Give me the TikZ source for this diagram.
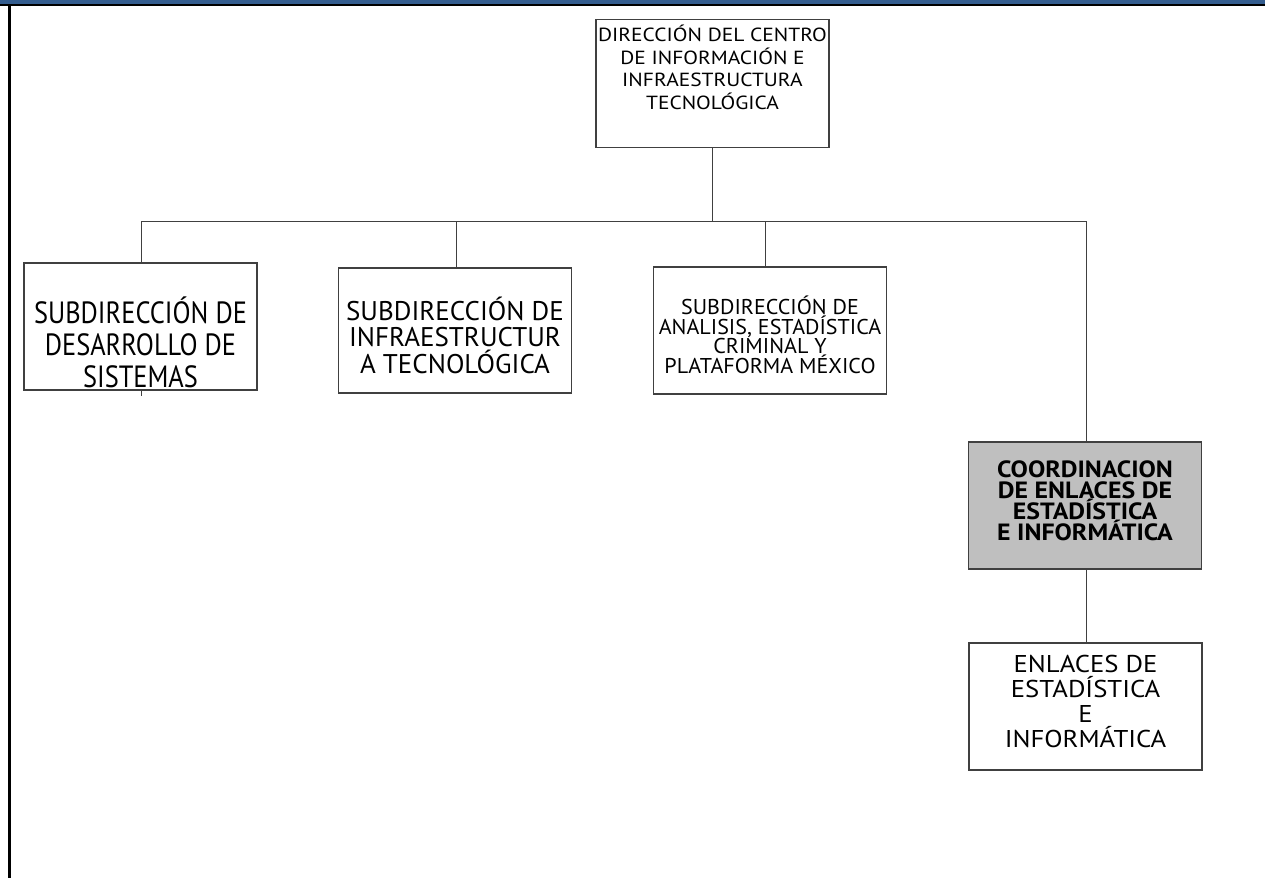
\documentclass[tikz,border=0pt]{standalone}
\usepackage{fontspec}
\setmainfont{PT Sans}
\usepackage{tikz}
\usetikzlibrary{positioning, calc}

\definecolor{barblue}{RGB}{52,93,143}
\definecolor{linegray}{RGB}{64,64,64}
\definecolor{boxgray}{RGB}{191,191,191}

\newcommand{\stretchfont}[3]{\fontsize{#1}{#2}\selectfont\addfontfeature{FakeStretch=#3}}

\begin{document}
\begin{tikzpicture}[x=1pt, y=-1pt,
    unit/.style={draw=linegray, line width=1.1pt, fill=white, minimum width=233pt, align=center, inner sep=0pt},
    link/.style={draw=linegray, line width=0.9pt}
]
\useasboundingbox (0,0) rectangle (1265,878);

% Frame
\fill[barblue] (0,0) rectangle (1265,4);
\fill[black] (0,4) rectangle (1265,6);
\fill[black] (8,6) rectangle (11,878);

% Direccion
\node[unit, minimum height=128pt, font=\stretchfont{19pt}{22.6pt}{1.13}] (dir) at (712.5,83.5)
    {DIRECCIÓN DEL CENTRO\\DE INFORMACIÓN E\\INFRAESTRUCTURA\\TECNOLÓGICA\\[10pt]\mbox{}};

% Subdirecciones
\node[unit, minimum height=127pt, font=\stretchfont{30.7pt}{32pt}{0.86}] (sis) at (140.5,326.5)
    {\mbox{}\\[26pt]SUBDIRECCIÓN DE\\DESARROLLO DE\\SISTEMAS};
\node[unit, minimum height=125pt, font=\stretchfont{27pt}{26.6pt}{1.0}] (inf) at (455,330.5)
    {\mbox{}\\[6pt]SUBDIRECCIÓN DE\\INFRAESTRUCTUR\\A TECNOLÓGICA};
\node[unit, minimum height=127pt, font=\stretchfont{21.4pt}{19.6pt}{1.03}] (ana) at (770,330.5)
    {\mbox{}\\[8pt]SUBDIRECCIÓN DE\\ANALISIS, ESTADÍSTICA\\CRIMINAL Y\\PLATAFORMA MÉXICO};

% Coordinacion
\node[unit, fill=boxgray, minimum height=127pt, font=\bfseries\stretchfont{23.5pt}{21pt}{1.1}] (coord) at (1085,505.5)
    {COORDINACION\\DE ENLACES DE\\ESTADÍSTICA\\E INFORMÁTICA\\[-12pt]\mbox{}};

% Enlaces
\node[unit, minimum height=127pt, font=\stretchfont{24.3pt}{25pt}{1.1}] (enl) at (1085.5,706.5)
    {ENLACES DE\\ESTADÍSTICA\\E\\INFORMÁTICA\\[-14pt]\mbox{}};

% Connections
\coordinate (busL) at (141,221);
\coordinate (busR) at (1086,221);
\coordinate (tapInf) at (456,221);
\coordinate (tapAna) at (765,221);
\coordinate (stub) at (141,396);
\draw[link] (busL) -- (busR);
\draw[link] (dir.south) -- (dir.south |- busL);
\draw[link] (busL) -- (busL |- sis.north);
\draw[link] (tapInf) -- (tapInf |- inf.north);
\draw[link] (tapAna) -- (tapAna |- ana.north);
\draw[link] (busR) -- (busR |- coord.north);
\draw[link] (coord.south -| busR) -- (busR |- enl.north);
\draw[link] (busL |- sis.south) -- (stub);

\end{tikzpicture}
\end{document}
